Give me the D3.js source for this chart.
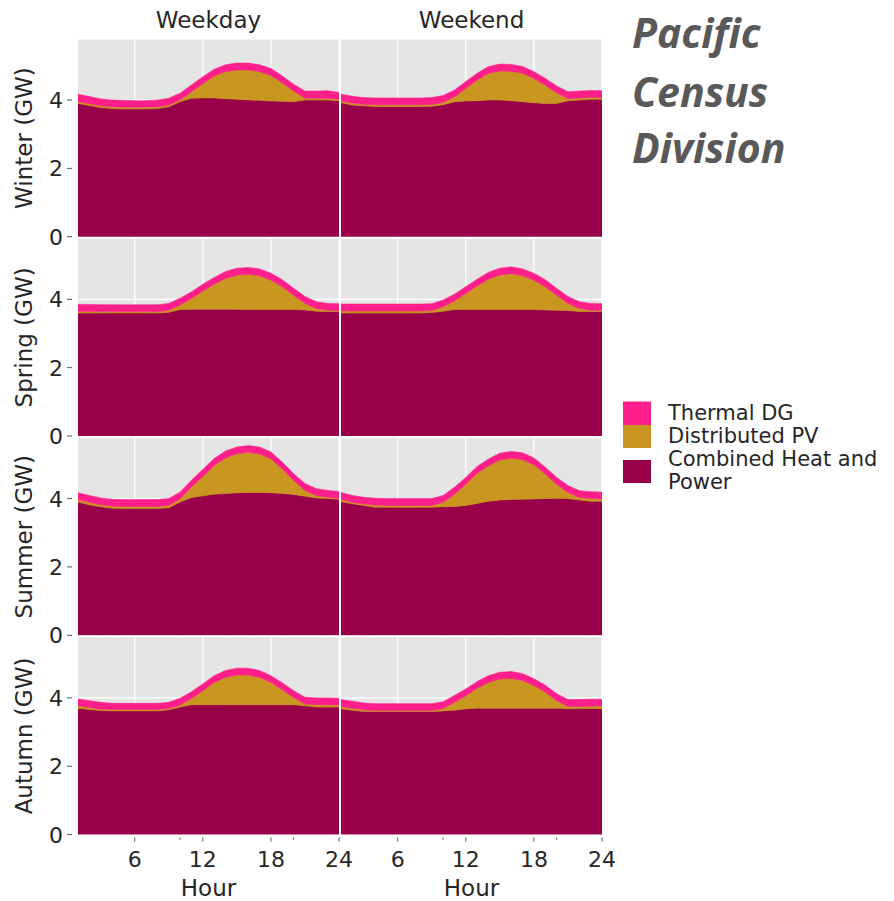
<!DOCTYPE html>
<meta charset="utf-8">
<head>
<style>
  body { margin: 0; background: #fff; }
  svg text { font-family: "DejaVu Sans", sans-serif; fill: #262626; }
</style>
</head>
<script src="https://cdn.jsdelivr.net/npm/d3@7"></script>
<body>
<script>

// ---- data (GW, hourly) ----
var hours = [1,2,3,4,5,6,7,8,9,10,11,12,13,14,15,16,17,18,19,20,21,22,23,24];
var seasons = ["Winter", "Spring", "Summer", "Autumn"];
var dayTypes = ["Weekday", "Weekend"];
var techs = ["Combined Heat and Power", "Distributed PV", "Thermal DG"];
var xTicks = [6, 12, 18, 24];
var xMinorTicks = [10, 20];
var yTicks = [0, 2, 4];

var winterWeekdayCHP = [3.90,3.84,3.78,3.75,3.74,3.74,3.74,3.75,3.80,3.95,4.05,4.06,4.06,4.04,4.02,4.00,3.99,3.97,3.96,3.95,4.00,4.00,4.00,3.98];
var winterWeekdayPV  = [0.05,0.05,0.05,0.05,0.05,0.05,0.05,0.05,0.05,0.05,0.19,0.42,0.64,0.79,0.86,0.88,0.84,0.75,0.54,0.31,0.05,0.05,0.05,0.04];
var winterWeekdayDG  = [0.22,0.21,0.20,0.20,0.20,0.19,0.19,0.20,0.20,0.20,0.20,0.20,0.20,0.20,0.20,0.20,0.20,0.20,0.20,0.20,0.21,0.21,0.22,0.20];

var winterWeekendCHP = [3.92,3.85,3.83,3.81,3.81,3.81,3.81,3.81,3.82,3.86,3.95,3.97,3.98,4.00,4.00,3.98,3.95,3.92,3.90,3.90,3.98,4.00,4.02,4.02];
var winterWeekendPV  = [0.05,0.06,0.04,0.05,0.05,0.05,0.05,0.05,0.05,0.07,0.14,0.37,0.60,0.78,0.85,0.86,0.83,0.71,0.53,0.31,0.06,0.06,0.06,0.05];
var winterWeekendDG  = [0.20,0.20,0.20,0.20,0.20,0.20,0.20,0.20,0.20,0.20,0.20,0.20,0.20,0.20,0.20,0.20,0.20,0.20,0.20,0.20,0.20,0.20,0.20,0.20];

var springWeekdayCHP = [3.60,3.60,3.60,3.60,3.60,3.60,3.60,3.60,3.62,3.70,3.71,3.71,3.71,3.71,3.71,3.70,3.70,3.70,3.70,3.70,3.69,3.65,3.64,3.64];
var springWeekdayPV  = [0.05,0.05,0.04,0.04,0.04,0.04,0.04,0.04,0.06,0.13,0.31,0.53,0.73,0.90,1.00,1.03,0.99,0.86,0.67,0.42,0.19,0.08,0.04,0.03];
var springWeekdayDG  = [0.20,0.20,0.20,0.20,0.20,0.20,0.20,0.20,0.20,0.20,0.20,0.20,0.20,0.20,0.20,0.20,0.20,0.20,0.20,0.20,0.20,0.20,0.20,0.20];

var springWeekendCHP = [3.60,3.60,3.60,3.60,3.60,3.60,3.60,3.60,3.61,3.65,3.70,3.70,3.70,3.70,3.70,3.70,3.70,3.70,3.69,3.68,3.67,3.64,3.64,3.64];
var springWeekendPV  = [0.06,0.06,0.06,0.06,0.06,0.06,0.06,0.06,0.06,0.13,0.25,0.47,0.69,0.89,1.01,1.05,0.99,0.86,0.68,0.44,0.21,0.09,0.04,0.03];
var springWeekendDG  = [0.20,0.20,0.20,0.20,0.20,0.20,0.20,0.20,0.20,0.20,0.20,0.20,0.20,0.20,0.20,0.20,0.20,0.20,0.20,0.20,0.20,0.20,0.20,0.20];

var summerWeekdayCHP = [3.90,3.82,3.76,3.72,3.71,3.71,3.71,3.71,3.73,3.90,4.03,4.08,4.13,4.15,4.17,4.18,4.18,4.17,4.15,4.12,4.07,4.02,4.00,3.98];
var summerWeekdayPV  = [0.07,0.07,0.06,0.06,0.06,0.06,0.06,0.06,0.07,0.09,0.31,0.57,0.84,1.04,1.14,1.17,1.13,0.99,0.72,0.41,0.17,0.07,0.04,0.03];
var summerWeekdayDG  = [0.20,0.20,0.20,0.20,0.20,0.20,0.20,0.20,0.20,0.20,0.20,0.20,0.20,0.20,0.20,0.20,0.20,0.20,0.20,0.20,0.20,0.20,0.20,0.20];

var summerWeekendCHP = [3.91,3.85,3.80,3.75,3.75,3.75,3.75,3.75,3.75,3.76,3.77,3.80,3.86,3.92,3.96,3.97,3.98,3.99,4.00,4.01,4.00,3.96,3.92,3.92];
var summerWeekendPV  = [0.07,0.04,0.04,0.06,0.05,0.05,0.05,0.05,0.05,0.13,0.36,0.62,0.88,1.04,1.17,1.21,1.16,1.00,0.72,0.41,0.18,0.07,0.08,0.07];
var summerWeekendDG  = [0.20,0.20,0.20,0.20,0.20,0.20,0.20,0.20,0.20,0.20,0.20,0.20,0.20,0.20,0.20,0.20,0.20,0.20,0.20,0.20,0.20,0.20,0.20,0.20];

var autumnWeekdayCHP = [3.70,3.66,3.63,3.62,3.62,3.62,3.62,3.62,3.65,3.73,3.80,3.80,3.80,3.80,3.80,3.80,3.80,3.80,3.80,3.80,3.77,3.73,3.73,3.73];
var autumnWeekdayPV  = [0.07,0.06,0.04,0.04,0.04,0.04,0.04,0.04,0.04,0.06,0.18,0.41,0.65,0.80,0.87,0.87,0.80,0.65,0.44,0.21,0.05,0.07,0.07,0.06];
var autumnWeekdayDG  = [0.20,0.20,0.20,0.18,0.18,0.18,0.18,0.18,0.18,0.20,0.20,0.20,0.20,0.20,0.20,0.20,0.20,0.20,0.20,0.20,0.20,0.20,0.20,0.20];

var autumnWeekendCHP = [3.68,3.64,3.60,3.60,3.60,3.60,3.60,3.60,3.60,3.62,3.64,3.68,3.70,3.70,3.70,3.70,3.70,3.70,3.70,3.70,3.68,3.69,3.69,3.69];
var autumnWeekendPV  = [0.07,0.06,0.05,0.03,0.03,0.03,0.03,0.03,0.03,0.07,0.23,0.38,0.58,0.75,0.85,0.87,0.81,0.66,0.47,0.22,0.07,0.06,0.07,0.07];
var autumnWeekendDG  = [0.20,0.20,0.20,0.20,0.20,0.20,0.20,0.20,0.20,0.20,0.20,0.20,0.20,0.20,0.20,0.20,0.20,0.20,0.20,0.20,0.20,0.20,0.20,0.20];

var panelSeries = {
  Winter: { Weekday: [winterWeekdayCHP, winterWeekdayPV, winterWeekdayDG], Weekend: [winterWeekendCHP, winterWeekendPV, winterWeekendDG] },
  Spring: { Weekday: [springWeekdayCHP, springWeekdayPV, springWeekdayDG], Weekend: [springWeekendCHP, springWeekendPV, springWeekendDG] },
  Summer: { Weekday: [summerWeekdayCHP, summerWeekdayPV, summerWeekdayDG], Weekend: [summerWeekendCHP, summerWeekendPV, summerWeekendDG] },
  Autumn: { Weekday: [autumnWeekdayCHP, autumnWeekdayPV, autumnWeekdayDG], Weekend: [autumnWeekendCHP, autumnWeekendPV, autumnWeekendDG] }
};

var colors = {
  "Combined Heat and Power": "#99004a",
  "Distributed PV": "#c9961f",
  "Thermal DG": "#ff1f8b"
};

// ---- layout ----
var width = 894, height = 901;
var colX = [78, 341];
var panelW = 261;
var rowTop = [39.5, 238.8, 438.1, 637.4];
var panelH = 197.2;

var svg = d3.select("body").append("svg")
    .attr("width", width)
    .attr("height", height);

var x = d3.scaleLinear().domain([1, 24]).range([0, panelW]);
var y = d3.scaleLinear().domain([0, 5.77]).range([panelH, 0]);

var stack = d3.stack().keys(techs);
var area = d3.area()
    .x(function(d) { return x(d.data.hour); })
    .y0(function(d) { return y(d[0]); })
    .y1(function(d) { return y(d[1]); });

var defs = svg.append("defs");
defs.append("clipPath").attr("id", "panelclip")
  .append("rect").attr("width", panelW).attr("height", panelH);

seasons.forEach(function(season, r) {
  dayTypes.forEach(function(day, c) {
    var s = panelSeries[season][day];
    var rows = hours.map(function(h, i) {
      var o = { hour: h };
      techs.forEach(function(t, k) { o[t] = s[k][i]; });
      return o;
    });

    var g = svg.append("g")
        .attr("transform", "translate(" + colX[c] + "," + rowTop[r] + ")");

    g.append("rect")
        .attr("width", panelW).attr("height", panelH)
        .attr("fill", "#e5e5e5");

    g.selectAll(".vgrid").data(xTicks).enter().append("line")
        .attr("x1", function(d) { return x(d); }).attr("x2", function(d) { return x(d); })
        .attr("y1", 0).attr("y2", panelH)
        .attr("stroke", "#fff").attr("stroke-width", 1.3);
    g.selectAll(".hgrid").data(yTicks).enter().append("line")
        .attr("y1", function(d) { return y(d); }).attr("y2", function(d) { return y(d); })
        .attr("x1", 0).attr("x2", panelW)
        .attr("stroke", "#fff").attr("stroke-width", 1.3);

    g.append("g").attr("clip-path", "url(#panelclip)")
      .selectAll("path").data(stack(rows)).enter().append("path")
        .attr("d", area)
        .attr("fill", function(d) { return colors[d.key]; })
        .attr("stroke", function(d) { return colors[d.key]; })
        .attr("stroke-width", 0.6);

    // y axis (left column only)
    if (c == 0) {
      var ya = g.append("g");
      ya.selectAll("line").data(yTicks).enter().append("line")
          .attr("x1", -11).attr("x2", -6)
          .attr("y1", function(d) { return y(d); }).attr("y2", function(d) { return y(d); })
          .attr("stroke", "#555").attr("stroke-width", 1);
      ya.selectAll("text").data(yTicks).enter().append("text")
          .attr("x", -15).attr("y", function(d) { return y(d); })
          .attr("dy", "0.36em")
          .attr("text-anchor", "end")
          .style("font-size", "22px")
          .text(function(d) { return d; });
      g.append("text")
          .attr("transform", "translate(-46," + (panelH / 2) + ") rotate(-90)")
          .attr("text-anchor", "middle")
          .style("font-size", "23px")
          .text(season + " (GW)");
    }

    // column titles
    if (r == 0) {
      g.append("text")
          .attr("x", panelW / 2).attr("y", -12)
          .attr("text-anchor", "middle")
          .style("font-size", "23px")
          .text(day);
    }

    // x axis (bottom row only)
    if (r == seasons.length - 1) {
      var xa = g.append("g").attr("transform", "translate(0," + panelH + ")");
      xa.selectAll(".maj").data(xTicks).enter().append("line")
          .attr("x1", function(d) { return x(d); }).attr("x2", function(d) { return x(d); })
          .attr("y1", 3).attr("y2", 7)
          .attr("stroke", "#555");
      xa.selectAll(".min").data(xMinorTicks).enter().append("line")
          .attr("x1", function(d) { return x(d); }).attr("x2", function(d) { return x(d); })
          .attr("y1", 3).attr("y2", 5)
          .attr("stroke", "#555");
      xa.selectAll("text").data(xTicks).enter().append("text")
          .attr("x", function(d) { return x(d); }).attr("y", 32)
          .attr("text-anchor", "middle")
          .style("font-size", "22px")
          .text(function(d) { return d; });
      g.append("text")
          .attr("x", panelW / 2).attr("y", panelH + 61)
          .attr("text-anchor", "middle")
          .style("font-size", "23px")
          .text("Hour");
    }
  });
});

// ---- legend ----
var legendItems = [
  { key: "Thermal DG", y: 401.5, h: 23.5, lines: ["Thermal DG"], ty: [420] },
  { key: "Distributed PV", y: 425, h: 23, lines: ["Distributed PV"], ty: [443] },
  { key: "Combined Heat and Power", y: 460, h: 23, lines: ["Combined Heat and", "Power"], ty: [466, 489] }
];
var lg = svg.append("g");
legendItems.forEach(function(it) {
  lg.append("rect")
      .attr("x", 623).attr("y", it.y)
      .attr("width", 28).attr("height", it.h)
      .attr("fill", colors[it.key]);
  it.lines.forEach(function(l, i) {
    lg.append("text")
        .attr("x", 668).attr("y", it.ty[i])
        .style("font-size", "21px")
        .text(l);
  });
});

// ---- title ----
var titleLines = ["Pacific", "Census", "Division"];
var titleY = [48, 107, 163];
var title = svg.append("g");
titleLines.forEach(function(t, i) {
  title.append("text")
      .attr("x", 632).attr("y", titleY[i])
      .style("font-family", "'Open Sans', sans-serif")
      .style("font-weight", "bold")
      .style("font-style", "italic")
      .style("font-size", "41px")
      .style("fill", "#595959")
      .text(t);
});

</script>
</body>
